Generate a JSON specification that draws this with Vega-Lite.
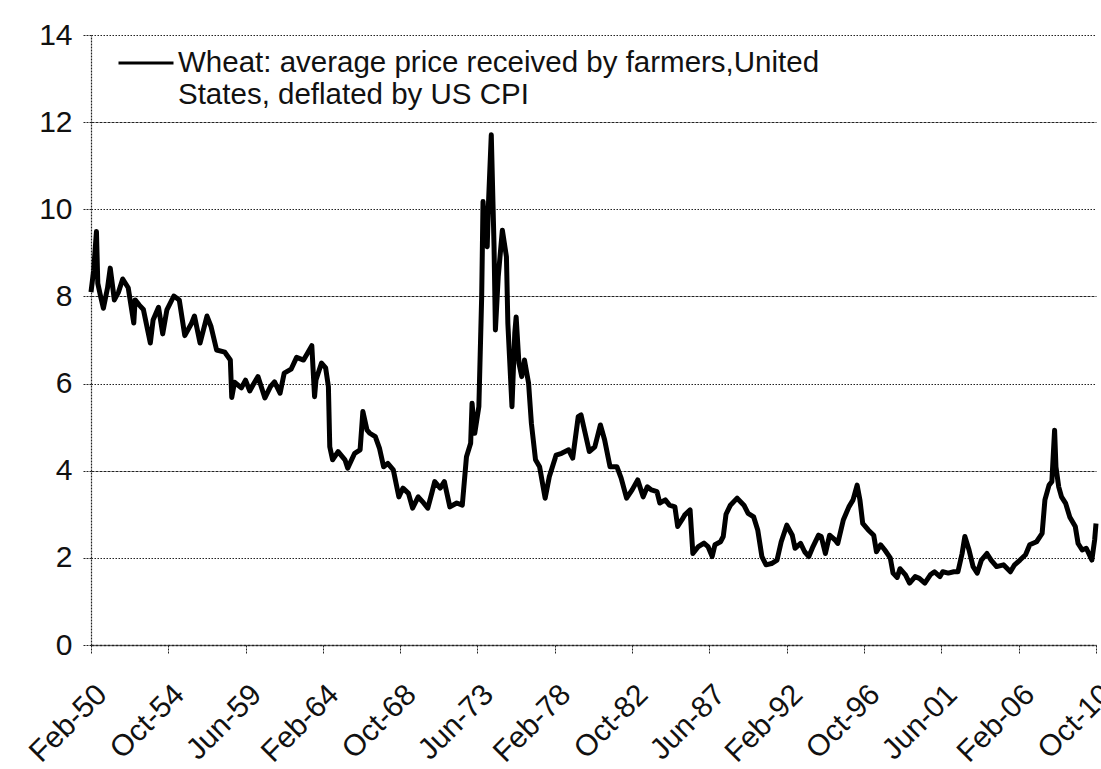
{
  "$schema": "https://vega.github.io/schema/vega-lite/v6.json",
  "width": 1005,
  "height": 610,
  "autosize": {"type": "none"},
  "padding": {"left": 91, "top": 35, "right": 5, "bottom": 124},
  "background": "white",
  "config": {"view": {"stroke": null}, "font": "Liberation Sans"},
  "data": {"values": [
    {"date":"1950-02-01","price":8.1},{"date":"1950-04-01","price":8.6},{"date":"1950-06-01","price":9.49},{"date":"1950-07-01","price":8.3},{"date":"1950-09-01","price":8.0},{"date":"1950-11-01","price":7.73},
    {"date":"1951-02-01","price":8.2},{"date":"1951-04-01","price":8.65},{"date":"1951-07-01","price":7.92},{"date":"1951-10-01","price":8.1},{"date":"1952-01-01","price":8.4},{"date":"1952-05-01","price":8.2},
    {"date":"1952-09-01","price":7.39},{"date":"1952-10-01","price":7.92},{"date":"1953-01-01","price":7.8},{"date":"1953-04-01","price":7.7},{"date":"1953-09-01","price":6.93},{"date":"1953-11-01","price":7.46},
    {"date":"1954-03-01","price":7.75},{"date":"1954-06-01","price":7.14},{"date":"1954-09-01","price":7.69},{"date":"1955-02-01","price":8.01},{"date":"1955-06-01","price":7.92},{"date":"1955-10-01","price":7.1},
    {"date":"1956-03-01","price":7.39},{"date":"1956-05-01","price":7.55},{"date":"1956-09-01","price":6.93},{"date":"1957-02-01","price":7.55},{"date":"1957-05-01","price":7.31},{"date":"1957-09-01","price":6.77},
    {"date":"1958-03-01","price":6.72},{"date":"1958-07-01","price":6.54},{"date":"1958-08-01","price":5.68},{"date":"1958-10-01","price":6.03},{"date":"1959-03-01","price":5.9},{"date":"1959-06-01","price":6.08},
    {"date":"1959-09-01","price":5.83},{"date":"1959-12-01","price":6.0},{"date":"1960-03-01","price":6.16},{"date":"1960-08-01","price":5.67},{"date":"1960-12-01","price":5.93},{"date":"1961-03-01","price":6.04},
    {"date":"1961-07-01","price":5.78},{"date":"1961-10-01","price":6.24},{"date":"1962-03-01","price":6.33},{"date":"1962-07-01","price":6.6},{"date":"1962-12-01","price":6.54},{"date":"1963-03-01","price":6.7},
    {"date":"1963-06-01","price":6.87},{"date":"1963-08-01","price":5.7},{"date":"1963-09-01","price":6.08},{"date":"1964-01-01","price":6.47},{"date":"1964-04-01","price":6.36},{"date":"1964-06-01","price":5.93},
    {"date":"1964-07-01","price":4.55},{"date":"1964-09-01","price":4.25},{"date":"1965-01-01","price":4.44},{"date":"1965-06-01","price":4.25},{"date":"1965-08-01","price":4.06},{"date":"1966-01-01","price":4.4},
    {"date":"1966-05-01","price":4.48},{"date":"1966-07-01","price":5.36},{"date":"1966-10-01","price":4.93},{"date":"1966-12-01","price":4.86},{"date":"1967-04-01","price":4.78},{"date":"1967-07-01","price":4.52},
    {"date":"1967-10-01","price":4.09},{"date":"1968-01-01","price":4.17},{"date":"1968-05-01","price":4.02},{"date":"1968-09-01","price":3.4},{"date":"1968-12-01","price":3.6},{"date":"1969-04-01","price":3.48},
    {"date":"1969-07-01","price":3.14},{"date":"1969-11-01","price":3.4},{"date":"1970-03-01","price":3.26},{"date":"1970-06-01","price":3.14},{"date":"1970-09-01","price":3.5},{"date":"1970-11-01","price":3.75},
    {"date":"1971-03-01","price":3.6},{"date":"1971-06-01","price":3.75},{"date":"1971-10-01","price":3.17},{"date":"1972-03-01","price":3.26},{"date":"1972-07-01","price":3.21},{"date":"1972-10-01","price":4.32},
    {"date":"1973-01-01","price":4.63},{"date":"1973-02-01","price":5.55},{"date":"1973-04-01","price":4.86},{"date":"1973-07-01","price":5.47},{"date":"1973-09-01","price":7.99},{"date":"1973-10-01","price":10.18},
    {"date":"1973-12-01","price":9.3},{"date":"1974-01-01","price":9.14},{"date":"1974-02-01","price":10.21},{"date":"1974-04-01","price":11.71},{"date":"1974-06-01","price":9.14},{"date":"1974-07-01","price":7.23},
    {"date":"1974-09-01","price":8.45},{"date":"1974-12-01","price":9.52},{"date":"1975-03-01","price":8.91},{"date":"1975-04-01","price":7.39},{"date":"1975-07-01","price":5.47},{"date":"1975-09-01","price":7.16},
    {"date":"1975-10-01","price":7.53},{"date":"1975-12-01","price":6.47},{"date":"1976-02-01","price":6.16},{"date":"1976-04-01","price":6.54},{"date":"1976-07-01","price":6.01},{"date":"1976-09-01","price":5.09},
    {"date":"1976-12-01","price":4.25},{"date":"1977-03-01","price":4.09},{"date":"1977-07-01","price":3.37},{"date":"1977-10-01","price":3.86},{"date":"1978-03-01","price":4.36},{"date":"1978-07-01","price":4.4},
    {"date":"1978-12-01","price":4.48},{"date":"1979-03-01","price":4.29},{"date":"1979-07-01","price":5.24},{"date":"1979-09-01","price":5.28},{"date":"1979-12-01","price":4.86},{"date":"1980-03-01","price":4.44},
    {"date":"1980-07-01","price":4.55},{"date":"1980-11-01","price":5.05},{"date":"1981-02-01","price":4.71},{"date":"1981-06-01","price":4.09},{"date":"1981-11-01","price":4.09},{"date":"1982-02-01","price":3.83},
    {"date":"1982-06-01","price":3.37},{"date":"1982-10-01","price":3.56},{"date":"1983-02-01","price":3.79},{"date":"1983-06-01","price":3.4},{"date":"1983-09-01","price":3.63},{"date":"1983-12-01","price":3.56},
    {"date":"1984-04-01","price":3.52},{"date":"1984-06-01","price":3.26},{"date":"1984-10-01","price":3.33},{"date":"1985-01-01","price":3.21},{"date":"1985-05-01","price":3.17},{"date":"1985-07-01","price":2.72},
    {"date":"1985-10-01","price":2.87},{"date":"1985-12-01","price":2.98},{"date":"1986-04-01","price":3.1},{"date":"1986-06-01","price":2.1},{"date":"1986-10-01","price":2.26},{"date":"1987-02-01","price":2.34},
    {"date":"1987-05-01","price":2.26},{"date":"1987-08-01","price":2.03},{"date":"1987-10-01","price":2.3},{"date":"1988-02-01","price":2.37},{"date":"1988-04-01","price":2.49},{"date":"1988-06-01","price":3.0},
    {"date":"1988-09-01","price":3.2},{"date":"1989-02-01","price":3.37},{"date":"1989-07-01","price":3.21},{"date":"1989-10-01","price":3.02},{"date":"1990-02-01","price":2.94},{"date":"1990-05-01","price":2.64},
    {"date":"1990-08-01","price":2.03},{"date":"1990-11-01","price":1.84},{"date":"1991-03-01","price":1.87},{"date":"1991-07-01","price":1.95},{"date":"1991-10-01","price":2.37},{"date":"1992-02-01","price":2.75},
    {"date":"1992-06-01","price":2.52},{"date":"1992-08-01","price":2.22},{"date":"1992-12-01","price":2.33},{"date":"1993-03-01","price":2.14},{"date":"1993-06-01","price":2.03},{"date":"1993-09-01","price":2.26},
    {"date":"1994-01-01","price":2.52},{"date":"1994-03-01","price":2.49},{"date":"1994-06-01","price":2.1},{"date":"1994-09-01","price":2.52},{"date":"1995-01-01","price":2.41},{"date":"1995-03-01","price":2.33},
    {"date":"1995-07-01","price":2.87},{"date":"1995-11-01","price":3.17},{"date":"1996-02-01","price":3.33},{"date":"1996-05-01","price":3.67},{"date":"1996-07-01","price":3.33},{"date":"1996-09-01","price":2.79},
    {"date":"1997-01-01","price":2.64},{"date":"1997-05-01","price":2.52},{"date":"1997-07-01","price":2.14},{"date":"1997-10-01","price":2.3},{"date":"1998-01-01","price":2.18},{"date":"1998-05-01","price":2.0},
    {"date":"1998-07-01","price":1.65},{"date":"1998-10-01","price":1.55},{"date":"1998-12-01","price":1.75},{"date":"1999-04-01","price":1.61},{"date":"1999-07-01","price":1.42},{"date":"1999-11-01","price":1.57},
    {"date":"2000-02-01","price":1.53},{"date":"2000-06-01","price":1.42},{"date":"2000-10-01","price":1.61},{"date":"2001-01-01","price":1.68},{"date":"2001-05-01","price":1.57},{"date":"2001-07-01","price":1.68},
    {"date":"2001-11-01","price":1.65},{"date":"2002-03-01","price":1.68},{"date":"2002-06-01","price":1.68},{"date":"2002-09-01","price":2.1},{"date":"2002-11-01","price":2.49},{"date":"2003-02-01","price":2.18},
    {"date":"2003-05-01","price":1.8},{"date":"2003-08-01","price":1.65},{"date":"2003-11-01","price":1.95},{"date":"2004-03-01","price":2.1},{"date":"2004-06-01","price":1.95},{"date":"2004-10-01","price":1.8},
    {"date":"2005-03-01","price":1.84},{"date":"2005-08-01","price":1.68},{"date":"2005-11-01","price":1.84},{"date":"2006-03-01","price":1.95},{"date":"2006-07-01","price":2.07},{"date":"2006-10-01","price":2.3},
    {"date":"2007-03-01","price":2.37},{"date":"2007-07-01","price":2.56},{"date":"2007-09-01","price":3.33},{"date":"2007-12-01","price":3.67},{"date":"2008-02-01","price":3.75},{"date":"2008-04-01","price":4.93},
    {"date":"2008-05-01","price":4.09},{"date":"2008-07-01","price":3.63},{"date":"2008-09-01","price":3.4},{"date":"2008-12-01","price":3.25},{"date":"2009-03-01","price":2.94},{"date":"2009-07-01","price":2.72},
    {"date":"2009-09-01","price":2.33},{"date":"2009-12-01","price":2.18},{"date":"2010-03-01","price":2.22},{"date":"2010-07-01","price":1.95},{"date":"2010-09-01","price":2.41},{"date":"2010-10-01","price":2.79}
  ]},
  "mark": {"type": "line", "strokeWidth": 5, "strokeJoin": "round", "clip": false},
  "encoding": {
    "x": {
      "field": "date", "type": "temporal",
      "scale": {"type": "utc", "domain": [{"year":1950,"month":2,"date":1,"utc":true},{"year":2010,"month":10,"date":1,"utc":true}]},
      "axis": {
        "title": null,
        "values": [
          {"year":1950,"month":2,"date":1,"utc":true},{"year":1954,"month":10,"date":1,"utc":true},{"year":1959,"month":6,"date":1,"utc":true},
          {"year":1964,"month":2,"date":1,"utc":true},{"year":1968,"month":10,"date":1,"utc":true},{"year":1973,"month":6,"date":1,"utc":true},
          {"year":1978,"month":2,"date":1,"utc":true},{"year":1982,"month":10,"date":1,"utc":true},{"year":1987,"month":6,"date":1,"utc":true},
          {"year":1992,"month":2,"date":1,"utc":true},{"year":1996,"month":10,"date":1,"utc":true},{"year":2001,"month":6,"date":1,"utc":true},
          {"year":2006,"month":2,"date":1,"utc":true},{"year":2010,"month":10,"date":1,"utc":true}
        ],
        "labelExpr": "utcFormat(datum.value, '%b-%y')",
        "labelAngle": -45, "labelFontSize": 30, "labelFont": "Liberation Sans", "labelColor": "#111",
        "labelPadding": 26, "labelOverlap": false, "labelFlush": false, "labelBound": false,
        "tickSize": 8, "tickColor": "#222", "tickDash": [2, 1],
        "domainColor": "#222", "domainWidth": 1.5, "domainDash": [3, 1],
        "grid": false
      }
    },
    "y": {
      "field": "price", "type": "quantitative",
      "scale": {"domain": [0, 14], "nice": false},
      "axis": {
        "title": null,
        "values": [0, 2, 4, 6, 8, 10, 12, 14],
        "labelFontSize": 30, "labelFont": "Liberation Sans", "labelColor": "#111",
        "labelPadding": 11, "tickSize": 8, "tickColor": "#222", "tickDash": [2, 1],
        "domainColor": "#222", "domainDash": [2, 1], "domainWidth": 1.2,
        "grid": true, "gridColor": "#222", "gridOpacity": 1, "gridWidth": 1.2,
        "gridDash": {"condition": {"test": "datum.value % 4 === 0", "value": [3, 1]}, "value": [1.5, 1.5]}
      }
    },
    "color": {
      "datum": "Wheat",
      "scale": {"range": ["#000000"]},
      "legend": {
        "orient": "none", "legendX": 26, "legendY": -1, "title": null, "padding": 0,
        "labelFontSize": 29.5, "labelFont": "Liberation Sans", "labelColor": "#111", "labelLimit": 2000,
        "symbolType": "stroke", "symbolSize": 3025, "symbolStrokeWidth": 3, "labelOffset": 3,
        "labelExpr": "['Wheat: average price received by farmers,United', 'States, deflated by US CPI']"
      }
    }
  }
}
